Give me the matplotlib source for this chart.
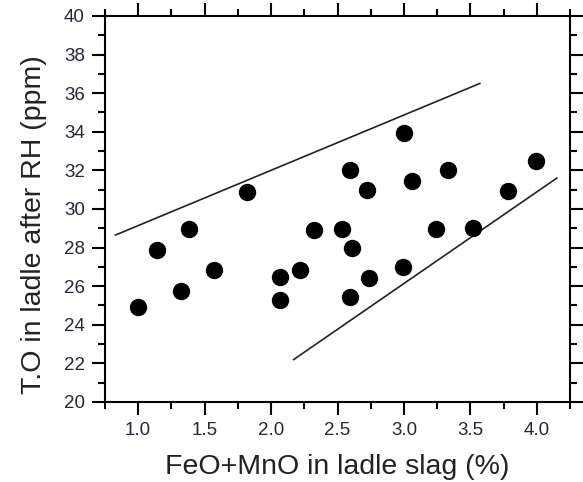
import numpy as np
import matplotlib.pyplot as plt
from matplotlib.ticker import MultipleLocator

plt.rcParams['font.family'] = ['Liberation Sans', 'DejaVu Sans']

# measured points
feo_mno = [1.00, 1.14, 1.32, 1.57, 1.38, 1.82, 2.07, 2.07, 2.22, 2.32,
           2.53, 2.59, 2.72, 3.00, 3.06, 3.33, 3.99, 3.78, 2.61, 3.24,
           3.52, 2.59, 2.74, 2.99]
total_o = [24.9, 27.85, 25.75, 26.85, 28.95, 30.9, 26.45, 25.3, 26.85, 28.9,
           28.95, 32.0, 31.0, 33.95, 31.45, 32.0, 32.5, 30.95, 28.0, 28.95,
           29.0, 25.45, 26.4, 27.0]

# boundary lines (end points)
upper_x = [0.83, 3.57]
upper_y = [28.65, 36.5]
lower_x = [2.17, 4.15]
lower_y = [22.2, 31.6]

fig = plt.figure(figsize=(5.83, 4.82), dpi=100)
ax = fig.add_axes([0.180, 0.166, 0.798, 0.801])

ax.plot(upper_x, upper_y, color='#222222', lw=1.2)
ax.plot(lower_x, lower_y, color='#222222', lw=1.2)
ax.plot(feo_mno, total_o, 'o', color='black', ms=11.5, mec='black')

ax.set_xlim(0.75, 4.25)
ax.set_ylim(20, 40)
ax.xaxis.set_major_locator(MultipleLocator(0.5))
ax.xaxis.set_minor_locator(MultipleLocator(0.25))
ax.yaxis.set_major_locator(MultipleLocator(2))
ax.yaxis.set_minor_locator(MultipleLocator(1))
ax.set_xticks(np.arange(1.0, 4.01, 0.5))
ax.xaxis.set_major_formatter(plt.FormatStrFormatter('%.1f'))

for s in ax.spines.values():
    s.set_linewidth(1.5)
ax.tick_params(which='both', direction='out', top=True, right=True,
               width=1.5, colors='black', labelcolor='#262636')
ax.tick_params(which='major', length=9.5, labelsize=13.5, pad=5)
ax.tick_params(which='minor', length=5)

ax.set_xlabel('FeO+MnO in ladle slag (%)', fontsize=20.5, color='#222222')
ax.set_ylabel('T.O in ladle after RH (ppm)', fontsize=20.5, color='#222222')
ax.xaxis.set_label_coords(0.5, -0.135)
ax.yaxis.set_label_coords(-0.125, 0.46)

fig.savefig('out.png', dpi=100)
